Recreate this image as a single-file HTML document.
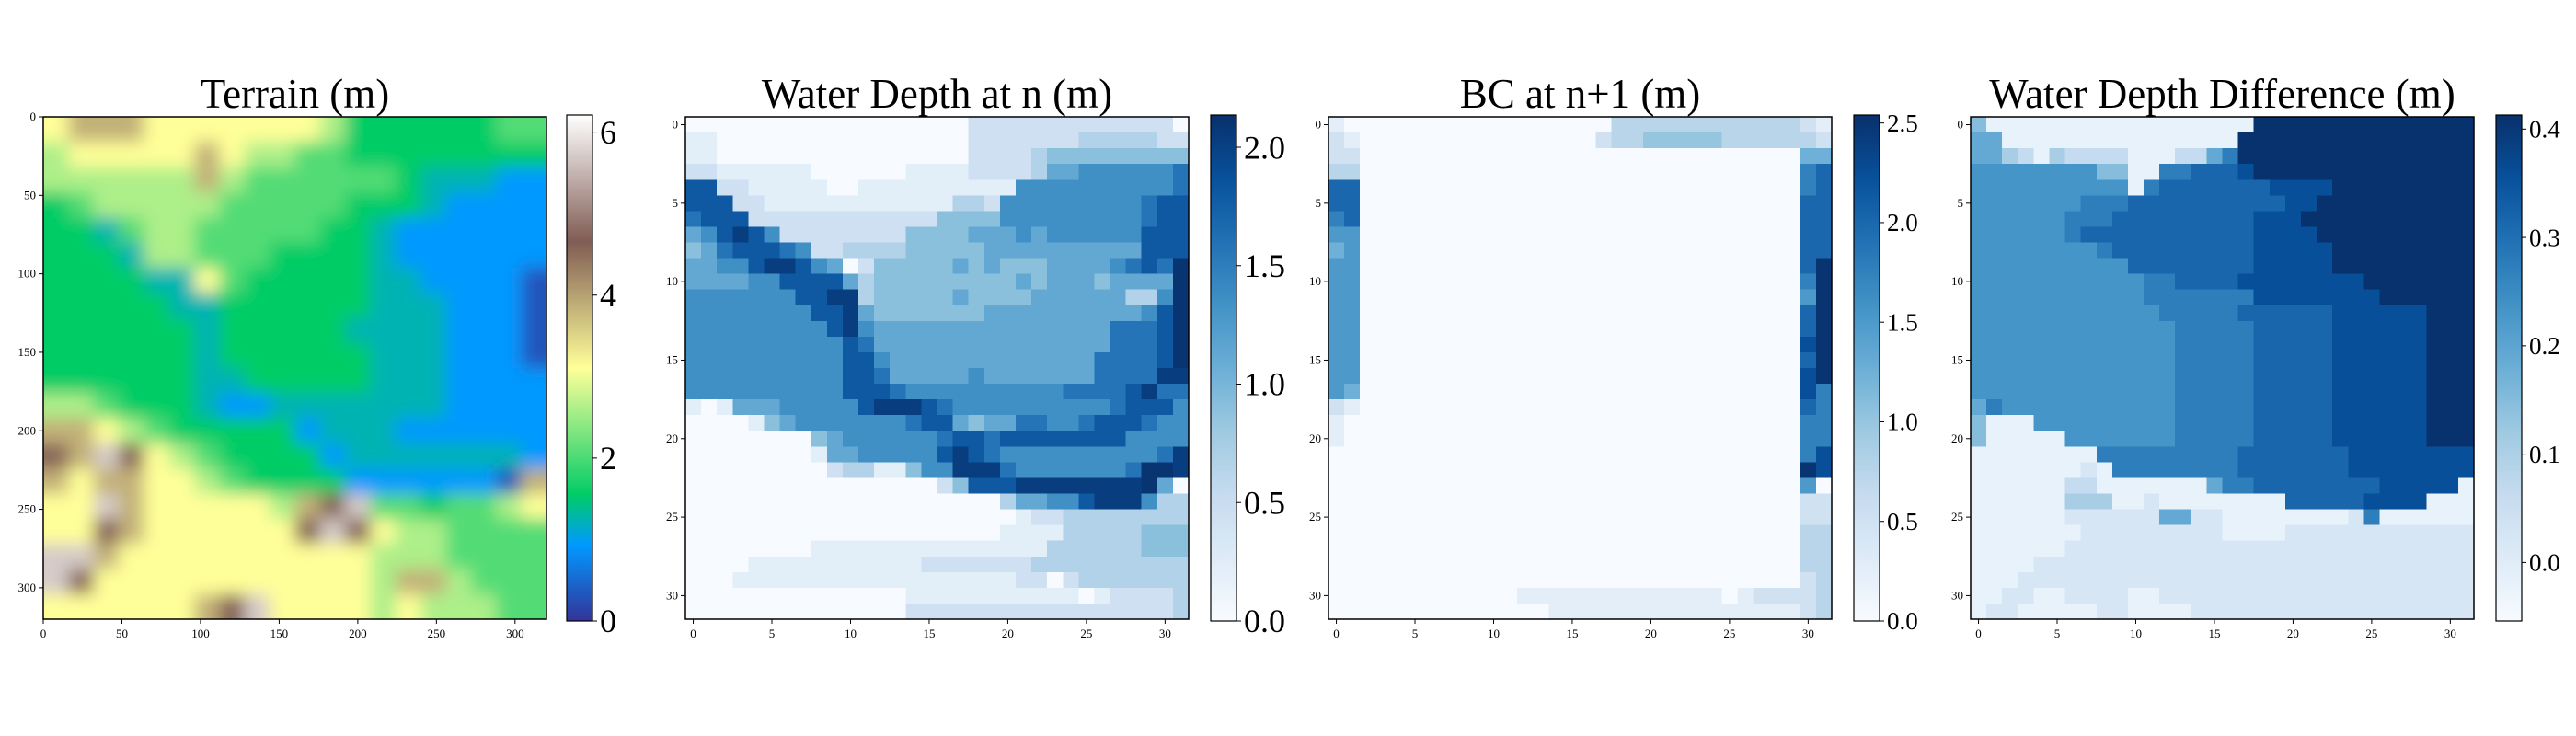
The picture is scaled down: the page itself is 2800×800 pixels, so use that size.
<!DOCTYPE html>
<html><head><meta charset="utf-8"><style>
html,body{margin:0;padding:0;background:#fff;width:2800px;height:800px;overflow:hidden}
svg{display:block;font-family:"Liberation Serif","DejaVu Serif",serif}
</style></head><body>
<svg id="fig" xmlns="http://www.w3.org/2000/svg" width="2800" height="800" viewBox="0 0 2800 800">
<defs>
<filter id="tblur" x="-10%" y="-10%" width="120%" height="120%"><feGaussianBlur stdDeviation="9"/></filter>
<clipPath id="clipT"><rect x="47" y="127" width="547" height="546"/></clipPath>
</defs>
</svg>
<script>
// ---------- DATA ----------
const terrainTicks = [0,50,100,150,200,250,300];
const gridTicks = [0,5,10,15,20,25,30];
const terrainLevelT = [0.05,0.15,0.2,0.25,0.33,0.42,0.5,0.62,0.74,0.92];
const terrainRows = [
"67776666666533333344","56666676554433333333","55555575444444322211","34555554444433321111",
"33245544444332111111","33325544433332111111","33332264333332211110","33333223333332221110",
"33333323333322221110","33333323333332221110","33333322333332221111","55433321122222221111",
"77654333331222111111","87986543333122222221","76776654333311111107","66976666657894434456",
"66876666668986554444","99766666666665554444","98666666666665775444","66666678966665655544"];
const depthRows = [
"000000000000000000"+"2222222222222"+"0",
"11"+"0000000000000000"+"2222222"+"3333"+"322",
"11"+"0000000000000000"+"2222"+"3"+"44444"+"4444",
"22"+"111111"+"000000"+"1111"+"2222"+"3"+"55"+"66666"+"67",
"88"+"22"+"11111"+"00"+"1111111111"+"666666666"+"67",
"888"+"22"+"111111111111"+"33"+"2"+"666666666"+"7"+"88",
"7888"+"222222222222"+"4444"+"666666666"+"7"+"88",
"568986"+"22222222"+"4444"+"55565666666"+"888",
"45788876"+"22"+"3333"+"444445555555555"+"888",
"55668998650"+"2"+"444445454445555"+"6787a",
"5555"+"66"+"8888"+"5"+"3"+"4444444445455545"+"555"+"a",
"6666666"+"88"+"99"+"3"+"444445444455555"+"5"+"33"+"6a",
"66666666"+"88"+"9"+"5"+"4444444555555555"+"568a",
"666666666"+"896"+"555555555555555"+"7778a",
"6666666666"+"87"+"555555555555555"+"7778a",
"6666666666"+"886"+"5555555555555"+"77778a",
"6666666666"+"887"+"5555565555555"+"777799",
"6666666666"+"8887"+"6666666666"+"7777"+"8977",
"101"+"55566666"+"89998"+"7"+"6666666666"+"7"+"888"+"6",
"0000"+"1"+"4"+"5"+"6666666"+"7"+"88"+"5"+"4"+"55"+"77"+"66"+"7"+"888"+"7"+"66",
"00000000"+"4"+"5"+"666666"+"7"+"88"+"7"+"88888888"+"6"+"666",
"00000000"+"1"+"55"+"66666"+"8"+"9"+"8"+"7"+"6"+"66666666"+"6"+"7"+"9",
"000000000"+"2"+"33"+"11"+"4"+"66"+"999"+"7"+"6666666"+"7"+"aa"+"9",
"0000000000000000"+"24"+"888"+"99999999"+"a50",
"00000000000000000000"+"355668999633",
"000000000000000000000"+"122"+"33333333",
"00000000000000000000"+"1111"+"3333"+"3444",
"00000000"+"111111111111111"+"333333"+"444",
"0000"+"11111111111"+"2222222"+"3333333333",
"000111111111111111111"+"22023333333",
"00000000000000"+"11111111111"+"0122223",
"00000000000000"+"22222222222222222"+"3"];
const Z28 = "0000000000000000000000000000";
const bcRows = [
"10"+"0000000000000000"+"333333333333"+"21",
"21"+"000000000000000"+"2"+"334444433333"+"32",
"22"+Z28+"55","33"+Z28+"78","88"+Z28+"78","88"+Z28+"88","78"+Z28+"88","66"+Z28+"88",
"56"+Z28+"88","66"+Z28+"8a","66"+Z28+"7a","66"+Z28+"6a","66"+Z28+"8a","66"+Z28+"8a",
"66"+Z28+"9a","66"+Z28+"8a","66"+Z28+"9a","65"+Z28+"97","21"+Z28+"87","10"+Z28+"77",
"10"+Z28+"77","00"+Z28+"79","00"+Z28+"a9","00"+Z28+"60","00"+Z28+"22","00"+Z28+"22",
"00"+Z28+"33","00"+Z28+"33","00"+Z28+"33","00"+Z28+"23",
"00"+"00"+"00000000"+"1111111111111"+"0"+"1"+"222"+"23",
"00000000000000"+"1111111111111111"+"23"];
const diffRows = [
"4"+"00000000000000000"+"aaaaaaaaaaaaaa",
"55"+"000000000000000"+"aaaaaaaaaaaaaaa",
"55"+"3"+"2"+"0"+"3"+"2222"+"000"+"22"+"5"+"7"+"aaaaaaaaaaaaaaa",
"66666666"+"44"+"00"+"77"+"888"+"9aaaaaaaaaaaaaa",
"6666666666"+"0"+"7"+"8888888"+"9999aaaaaaaaa",
"66666667"+"77"+"8888888888"+"99aaaaaaaaaa",
"666666"+"777"+"8888888"+"88999"+"aaaaaaaaaaa",
"666666"+"78"+"88888888"+"889999"+"aaaaaaaaaa",
"66666666"+"7"+"8888888"+"8899999"+"aaaaaaaaa",
"6666666666"+"88888888"+"99999"+"aaaaaaaaa",
"66666666666"+"778888"+"99999999"+"aaaaaaa",
"66666666666"+"7777777"+"99999999"+"aaaaaa",
"666666666666"+"77777"+"888888"+"999999aaa",
"6666666666666"+"77777"+"88888"+"999999"+"aaa",
"6666666666666"+"77777"+"88888"+"999999"+"aaa",
"6666666666666"+"77777"+"88888"+"999999"+"aaa",
"6666666666666"+"77777"+"88888"+"999999"+"aaa",
"6666666666666"+"77777"+"88888"+"999999"+"aaa",
"5"+"7"+"66666666666"+"77777"+"88888"+"999999"+"aaa",
"4"+"000"+"666666666"+"77777"+"88888"+"999999"+"aaa",
"4"+"00000"+"6666666"+"77777"+"88888"+"999999"+"aaa",
"00000000"+"7777777"+"778888"+"88899999999",
"0000000"+"1"+"0"+"777777"+"7788888"+"8899999999",
"000000"+"22"+"0000000"+"5"+"77888888"+"8899999"+"0",
"000000"+"333"+"00"+"1"+"00000000"+"888889999"+"000",
"000000"+"111111"+"55"+"11"+"00000"+"000"+"1"+"7"+"000000",
"0000000"+"11111111"+"1"+"0000"+"111111111111",
"000000"+"11111111111111111111111111",
"0000"+"1111111111111111111111111111",
"000"+"11111111111111111111111111111",
"00"+"11"+"00"+"1111"+"00"+"11111111111111111111",
"0"+"11"+"000"+"00"+"11"+"0000"+"111111111111111111"];
const depthTicks = [0,0.5,1.0,1.5,2.0];
const bcTicks = [0,0.5,1.0,1.5,2.0,2.5];
const diffTicks = [0,0.1,0.2,0.3,0.4];
const terrainCbTicks = [0,2,4,6];

// ---------- helpers ----------
const NS = "http://www.w3.org/2000/svg";
const svg = document.getElementById('fig');
function mk(tag, attrs, parent){const e=document.createElementNS(NS,tag);for(const k in attrs)e.setAttribute(k,attrs[k]);(parent||svg).appendChild(e);return e;}
function hex(c){return [parseInt(c.substr(1,2),16),parseInt(c.substr(3,2),16),parseInt(c.substr(5,2),16)];}
function interp(stops,t){t=Math.max(0,Math.min(1,t));for(let i=1;i<stops.length;i++){if(t<=stops[i][0]){const a=stops[i-1],b=stops[i];const f=(t-a[0])/(b[0]-a[0]||1);const ca=hex(a[1]),cb=hex(b[1]);return 'rgb('+ca.map((v,j)=>Math.round(v+(cb[j]-v)*f)).join(',')+')';}}return stops[stops.length-1][1];}
const BLUES=[[0,'#f7fbff'],[0.125,'#deebf7'],[0.25,'#c6dbef'],[0.375,'#9ecae1'],[0.5,'#6baed6'],[0.625,'#4292c6'],[0.75,'#2171b5'],[0.875,'#08519c'],[1,'#08306b']];
const TERRAIN=[[0,'#333399'],[0.15,'#0099ff'],[0.25,'#00cc66'],[0.5,'#ffff99'],[0.75,'#805c54'],[1,'#ffffff']];
function fit32(s){s=s.slice(0,32);while(s.length<32)s+=s[s.length-1];return s;}

const W=547,H=546,Y0=127;
const panels=[
 {name:'terrain',x0:47,title:'Terrain (m)',cbx:616,vmin:0,vmax:6.21,cmap:TERRAIN,cbTicks:terrainCbTicks,cbFont:36,fmt:v=>String(v)},
 {name:'water-depth-n',x0:745,title:'Water Depth at n (m)',cbx:1316,vmin:0,vmax:2.136,cmap:BLUES,cbTicks:depthTicks,cbFont:36,fmt:v=>v.toFixed(1),rows:depthRows,val:d=>d==='a'?2.1:(+d)*0.225},
 {name:'bc-n1',x0:1444,title:'BC at n+1 (m)',cbx:2015,vmin:0,vmax:2.54,cmap:BLUES,cbTicks:bcTicks,cbFont:27,fmt:v=>v.toFixed(1),rows:bcRows,val:d=>d==='a'?2.5:(+d)*0.25},
 {name:'depth-diff',x0:2142,title:'Water Depth Difference (m)',cbx:2713,vmin:-0.054,vmax:0.413,cmap:BLUES,cbTicks:diffTicks,cbFont:27,fmt:v=>v.toFixed(1),rows:diffRows,val:d=>d==='a'?0.41:-0.02+(+d)*0.042}
];

panels.forEach((p,pi)=>{
  const g=mk('g',{});
  
  
  const col=v=>interp(p.cmap,(v-p.vmin)/(p.vmax-p.vmin));
  if(pi===0){
    const xs=v=>p.x0+v/320*W, ys=v=>Y0+v/320*H;
    const cg=mk('g',{'clip-path':'url(#clipT)'},g);
    const ig=mk('g',{filter:'url(#tblur)'},cg);
    
    
    terrainRows.forEach((row,r)=>{
      for(let c=0;c<20;c++){
        const v=terrainLevelT[+row[c]]*6.21;
        let x=xs(c*16),y=ys(r*16),w=xs((c+1)*16)-x,h=ys((r+1)*16)-y;
        if(c===0){x-=30;w+=30;} if(c===19){w+=30;}
        if(r===0){y-=30;h+=30;} if(r===19){h+=30;}
        const e=mk('rect',{x:x,y:y,width:w+0.6,height:h+0.6,fill:col(v)},ig);
        
        
      }
    });
    terrainTicks.forEach(t=>{
      mk('line',{x1:xs(t),x2:xs(t),y1:Y0+H,y2:Y0+H+5,stroke:'#000','stroke-width':1},g);
      const tx=mk('text',{x:xs(t),y:Y0+H+20,'font-size':13,'text-anchor':'middle'},g);tx.textContent=t;
      
      
      mk('line',{x1:p.x0-5,x2:p.x0,y1:ys(t),y2:ys(t),stroke:'#000','stroke-width':1},g);
      const ty=mk('text',{x:p.x0-8,y:ys(t)+4,'font-size':13,'text-anchor':'end'},g);ty.textContent=t;
      
      
    });
  } else {
    const cw=W/32,ch=H/32;
    const hg=mk('g',{'shape-rendering':'crispEdges'},g);
    
    
    p.rows.forEach((rs,r)=>{
      const row=fit32(rs);
      for(let c=0;c<32;c++){
        const e=mk('rect',{x:p.x0+c*cw,y:Y0+r*ch,width:cw+0.7,height:ch+0.7,fill:col(p.val(row[c]))},hg);
        
        
      }
    });
    gridTicks.forEach(t=>{
      const x=p.x0+(t+0.5)*cw,y=Y0+(t+0.5)*ch;
      mk('line',{x1:x,x2:x,y1:Y0+H,y2:Y0+H+5,stroke:'#000','stroke-width':1},g);
      const tx=mk('text',{x:x,y:Y0+H+20,'font-size':13,'text-anchor':'middle'},g);tx.textContent=t;
      
      
      mk('line',{x1:p.x0-5,x2:p.x0,y1:y,y2:y,stroke:'#000','stroke-width':1},g);
      const ty=mk('text',{x:p.x0-8,y:y+4,'font-size':13,'text-anchor':'end'},g);ty.textContent=t;
      
      
    });
  }
  const fr=mk('rect',{x:p.x0,y:Y0,width:W,height:H,fill:'none',stroke:'#000','stroke-width':1.5},g);
  
  
  const ti=mk('text',{x:p.x0+W/2,y:117,'font-size':45,'text-anchor':'middle'},g);ti.textContent=p.title;
  
  
  const gid='cbg'+pi;
  const lg=mk('linearGradient',{id:gid,x1:0,y1:1,x2:0,y2:0},svg.querySelector('defs'));
  for(let i=0;i<=40;i++){const t=i/40;mk('stop',{offset:t,'stop-color':interp(p.cmap,t)},lg);}
  const cbY0=125,cbY1=675,cbW=28;
  const cb=mk('rect',{x:p.cbx,y:cbY0,width:cbW,height:cbY1-cbY0,fill:'url(#'+gid+')',stroke:'#000','stroke-width':1.2},g);
  
  
  const cy=v=>cbY1-(v-p.vmin)/(p.vmax-p.vmin)*(cbY1-cbY0);
  p.cbTicks.forEach(t=>{
    mk('line',{x1:p.cbx+cbW,x2:p.cbx+cbW+5,y1:cy(t),y2:cy(t),stroke:'#000','stroke-width':1},g);
    const l=mk('text',{x:p.cbx+cbW+8,y:cy(t)+p.cbFont*0.34,'font-size':p.cbFont},g);l.textContent=p.fmt(t);
    
    
  });
});
</script>
</body></html>
